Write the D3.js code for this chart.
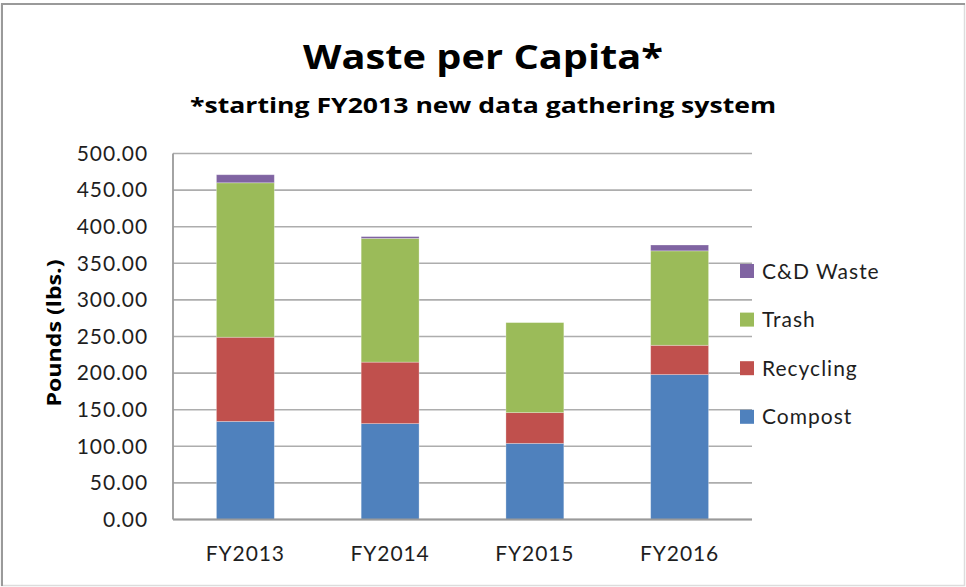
<!DOCTYPE html>
<html>
<head>
<meta charset="utf-8">
<script src="https://cdn.jsdelivr.net/npm/d3@7"></script>
<style>
  body { margin: 0; background: #fff; }
  svg { display: block; font-family: Lato, "Open Sans", sans-serif; }
</style>
</head>
<body>
<div id="chart"></div>
<script>
(function () {

  // data
  var years = ['FY2013', 'FY2014', 'FY2015', 'FY2016']
  var compost   = [134, 131, 104, 198]
  var recycling = [115, 84, 42, 40]
  var trash     = [211, 169, 123, 129]
  var cdWaste   = [11, 2.5, 0, 8]
  var yTicks = [0, 50, 100, 150, 200, 250, 300, 350, 400, 450, 500]

  var seriesNames = ['Compost', 'Recycling', 'Trash', 'C&D Waste']
  var seriesColors = ['#4f81bd', '#c0504d', '#9bbb59', '#8064a2']

  var width = 966, height = 587

  var svg = d3.select('#chart').append('svg')
    .attr('width', width)
    .attr('height', height)

  // frame
  svg.append('rect')
    .attr('x', 1.5).attr('y', 4)
    .attr('width', 963).attr('height', 581.5)
    .attr('fill', 'none')
    .attr('stroke', '#dcdcdc')
    .attr('stroke-width', 1.5)
  svg.append('path')
    .attr('d', 'M2,586 V4 H965')
    .attr('fill', 'none')
    .attr('stroke', '#9a9a9a')
    .attr('stroke-width', 2)

  var table = years.map(function (y, i) {
    return { year: y, 'Compost': compost[i], 'Recycling': recycling[i], 'Trash': trash[i], 'C&D Waste': cdWaste[i] }
  })

  var stacked = d3.stack().keys(seriesNames)(table)

  var xPositionScale = d3.scaleBand()
    .domain(years)
    .range([173, 752])
    .paddingInner(0.6)
    .paddingOuter(0.3)

  var yPositionScale = d3.scaleLinear()
    .domain([0, 500])
    .range([519.5, 153.5])

  var colorScale = d3.scaleOrdinal()
    .domain(seriesNames)
    .range(seriesColors)

  // gridlines
  svg.append('g')
    .selectAll('line')
    .data(yTicks)
    .enter().append('line')
    .attr('x1', 173)
    .attr('x2', 752)
    .attr('y1', function (d) { return yPositionScale(d) })
    .attr('y2', function (d) { return yPositionScale(d) })
    .attr('stroke', '#adadad')
    .attr('stroke-width', 1.6)

  // bars
  svg.append('g')
    .selectAll('g')
    .data(stacked)
    .enter().append('g')
    .attr('fill', function (d) { return colorScale(d.key) })
    .selectAll('rect')
    .data(function (d) { return d })
    .enter().append('rect')
    .attr('x', function (d) { return xPositionScale(d.data.year) })
    .attr('width', xPositionScale.bandwidth())
    .attr('y', function (d) { return yPositionScale(d[1]) })
    .attr('height', function (d) { return yPositionScale(d[0]) - yPositionScale(d[1]) })
    .attr('stroke', 'rgba(255,255,255,0.35)')
    .attr('stroke-width', 0.8)

  // axes
  var yAxis = d3.axisLeft(yPositionScale)
    .tickValues(yTicks)
    .tickFormat(d3.format('.2f'))
    .tickSize(0)
    .tickPadding(25)
  svg.append('g')
    .attr('class', 'axis y-axis')
    .attr('transform', 'translate(173,0)')
    .call(yAxis)

  var xAxis = d3.axisBottom(xPositionScale)
    .tickSize(0)
    .tickPadding(27)
  svg.append('g')
    .attr('class', 'axis x-axis')
    .attr('transform', 'translate(0,' + yPositionScale(0) + ')')
    .call(xAxis)

  svg.selectAll('.axis .domain')
    .attr('stroke', '#9a9a9a')
    .attr('stroke-width', 1.8)
  svg.selectAll('.axis text')
    .attr('font-family', 'Lato, sans-serif')
    .attr('font-size', 21)
    .attr('letter-spacing', 0.9)
    .attr('fill', '#1e1e1e')
  svg.select('.y-axis .domain').attr('d', 'M0,' + yPositionScale(500) + 'V' + yPositionScale(0))
  svg.select('.x-axis .domain').attr('d', 'M173,0H752')

  // titles
  svg.append('text')
    .attr('x', 483)
    .attr('y', 69)
    .attr('text-anchor', 'middle')
    .attr('font-family', '"Open Sans", sans-serif')
    .attr('font-size', 34)
    .attr('font-weight', 'bold')
    .attr('textLength', 360)
    .attr('lengthAdjust', 'spacingAndGlyphs')
    .attr('fill', '#000')
    .text('Waste per Capita*')

  svg.append('text')
    .attr('x', 483)
    .attr('y', 113)
    .attr('text-anchor', 'middle')
    .attr('font-family', '"Open Sans", sans-serif')
    .attr('font-size', 21)
    .attr('font-weight', 'bold')
    .attr('textLength', 586)
    .attr('lengthAdjust', 'spacingAndGlyphs')
    .attr('fill', '#000')
    .text('*starting FY2013 new data gathering system')

  svg.append('text')
    .attr('transform', 'translate(61,333) rotate(-90)')
    .attr('text-anchor', 'middle')
    .attr('font-family', '"Open Sans", sans-serif')
    .attr('font-size', 19)
    .attr('font-weight', 'bold')
    .attr('textLength', 147)
    .attr('lengthAdjust', 'spacingAndGlyphs')
    .attr('fill', '#000')
    .text('Pounds (lbs.)')

  // legend, top entry is the last series
  var legendOrder = seriesNames.slice().reverse()
  var legend = svg.append('g')
    .selectAll('g')
    .data(legendOrder)
    .enter().append('g')
    .attr('transform', function (d, i) { return 'translate(740,' + (271 + i * 48.6) + ')' })

  legend.append('rect')
    .attr('x', 0).attr('y', -7)
    .attr('width', 14).attr('height', 14)
    .attr('fill', function (d) { return colorScale(d) })

  legend.append('text')
    .attr('x', 22)
    .attr('y', 7.5)
    .attr('font-size', 21)
    .attr('letter-spacing', 1)
    .attr('fill', '#1e1e1e')
    .text(function (d) { return d })

})()
</script>
</body>
</html>
